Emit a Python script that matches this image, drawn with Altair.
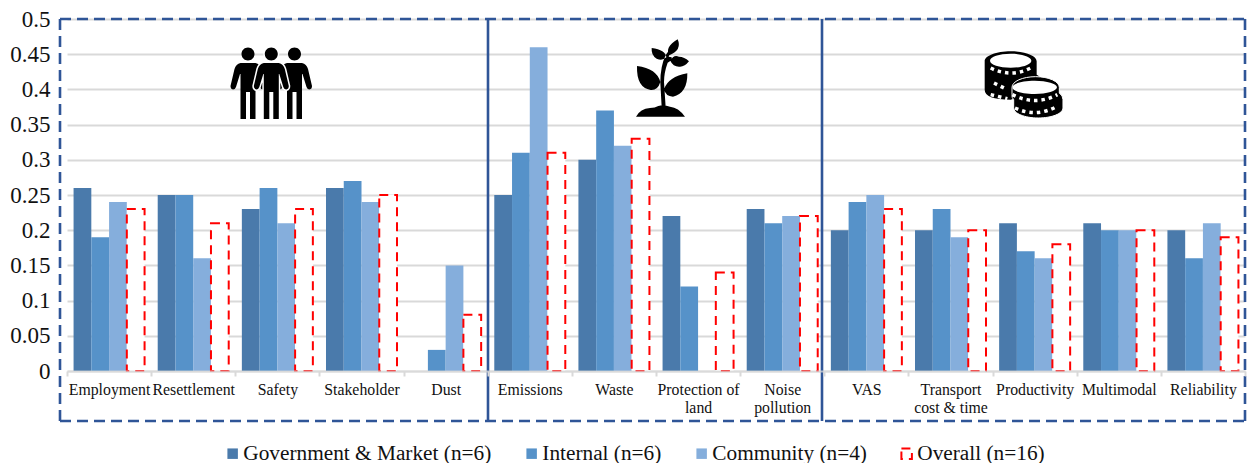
import altair as alt
import pandas as pd

FONT = "Liberation Serif"
TEXT = "#111111"

categories = ["Employment", "Resettlement", "Safety", "Stakeholder", "Dust",
              "Emissions", "Waste", "Protection of land", "Noise pollution",
              "VAS", "Transport cost & time", "Productivity", "Multimodal", "Reliability"]
series_names = ["Government & Market (n=6)", "Internal (n=6)", "Community (n=4)", "Overall (n=16)"]

government = [0.26, 0.25, 0.23, 0.26, 0.0, 0.25, 0.30, 0.22, 0.23, 0.20, 0.20, 0.21, 0.21, 0.20]
internal = [0.19, 0.25, 0.26, 0.27, 0.03, 0.31, 0.37, 0.12, 0.21, 0.24, 0.23, 0.17, 0.20, 0.16]
community = [0.24, 0.16, 0.21, 0.24, 0.15, 0.46, 0.32, 0.0, 0.22, 0.25, 0.19, 0.16, 0.20, 0.21]
overall = [0.23, 0.21, 0.23, 0.25, 0.08, 0.31, 0.33, 0.14, 0.22, 0.23, 0.20, 0.18, 0.20, 0.19]

fills = ["#4a7aab", "#5692c9", "#85aedc", "#ffffff"]
strokes = ["#4a7aab", "#5692c9", "#85aedc", "#ff0000"]
dashes = [[1, 0], [1, 0], [1, 0], [9, 6]]
stroke_widths = [0, 0, 0, 2]

y_ticks = [0, 0.05, 0.1, 0.15, 0.2, 0.25, 0.3, 0.35, 0.4, 0.45, 0.5]

rows = []
for name, values in zip(series_names, [government, internal, community, overall]):
    for category, value in zip(categories, values):
        rows.append({"category": category, "series": name, "value": value})
table = pd.DataFrame(rows)

PLOT_W = 1178
PLOT_H = 352
BLUE = "#2f5597"

wrap_labels = ("datum.label == 'Protection of land' ? ['Protection of', 'land'] : "
               "datum.label == 'Noise pollution' ? ['Noise', 'pollution'] : "
               "datum.label == 'Transport cost & time' ? ['Transport', 'cost & time'] : datum.label")

bars = alt.Chart(table).mark_bar(clip=False).encode(
    x=alt.X("category:N", sort=categories, title=None,
            scale=alt.Scale(paddingInner=0, paddingOuter=0),
            axis=alt.Axis(labelAngle=0, labelFont=FONT, labelFontSize=15.8, labelColor=TEXT,
                          labelOverlap=False, labelLimit=300, labelPadding=6, labelLineHeight=18,
                          labelExpr=wrap_labels, domainColor="#d9d9d9", domainWidth=2,
                          domainOpacity=0.75, tickColor="#d9d9d9", tickWidth=2, tickSize=5,
                          tickBand="extent", grid=False, zindex=1)),
    xOffset=alt.XOffset("series:N", sort=series_names,
                        scale=alt.Scale(domain=series_names, paddingInner=0, paddingOuter=0.37)),
    y=alt.Y("value:Q", title=None,
            scale=alt.Scale(domain=[0, 0.5], nice=False),
            axis=alt.Axis(values=y_ticks, format=".2~f", labelFont=FONT, labelFontSize=23,
                          labelColor=TEXT, labelPadding=17, tickSize=0, domain=False,
                          gridColor="#d9d9d9", gridWidth=2)),
    fill=alt.Fill("series:N", scale=alt.Scale(domain=series_names, range=fills),
                  legend=alt.Legend(title=None, orient="none", legendX=155, legendY=424,
                                    direction="horizontal", columns=4, columnPadding=29,
                                    symbolType="square", symbolSize=110, symbolStrokeWidth=2,
                                    labelFont=FONT, labelFontSize=21.3, labelColor=TEXT,
                                    labelOffset=0, labelLimit=400)),
    stroke=alt.Stroke("series:N", scale=alt.Scale(domain=series_names, range=strokes), legend=None),
    strokeDash=alt.StrokeDash("series:N", scale=alt.Scale(domain=series_names, range=dashes), legend=None),
    strokeWidth=alt.StrokeWidth("series:N",
                                scale=alt.Scale(type="ordinal", domain=series_names, range=stroke_widths),
                                legend=None),
)

one_row = alt.Data(values=[{"k": 1}])


def frame_rule(dash, **channels):
    mark = alt.Chart(one_row).mark_rule(color=BLUE, strokeWidth=2.6, strokeDash=dash, clip=False)
    return mark.encode(**channels)


LEFT, RIGHT, TOP, BOTTOM = -7, 1178, 0, 402
DASH = [11, 6]
SOLID = [1, 0]
frame = [
    frame_rule(DASH, x=alt.value(LEFT), x2=alt.value(RIGHT), y=alt.value(TOP)),
    frame_rule(DASH, x=alt.value(LEFT), x2=alt.value(RIGHT), y=alt.value(BOTTOM)),
    frame_rule(DASH, x=alt.value(LEFT), y=alt.value(TOP), y2=alt.value(BOTTOM)),
    frame_rule(DASH, x=alt.value(RIGHT), y=alt.value(TOP), y2=alt.value(BOTTOM)),
    frame_rule(SOLID, x=alt.value(421), y=alt.value(TOP), y2=alt.value(BOTTOM)),
    frame_rule(SOLID, x=alt.value(755), y=alt.value(TOP), y2=alt.value(BOTTOM)),
]


def icon(path, x, y, size, **style):
    mark = alt.Chart(one_row).mark_point(shape=path, size=size, opacity=1, clip=False, **style)
    return mark.encode(x=alt.value(x), y=alt.value(y))


# Person pictogram: head plus body with arms and two legs, drawn around the head centre.
PERSON = ("M-6.5,0 A6.5,6.5 0 1 1 6.5,0 A6.5,6.5 0 1 1 -6.5,0 Z "
          "M-7.5,9 L7.5,9 Q12,10 13.5,15 L17.5,32 Q17.5,35 15,35.5 Q13,35.5 12,33 L8,20 L7.5,20 L7.5,65 "
          "L2,65 L2,38 L-2,38 L-2,65 L-7.5,65 L-7.5,20 L-8,20 L-12,33 Q-13,35.5 -15,35.5 "
          "Q-17.5,35 -17.5,32 L-13.5,15 Q-12,10 -7.5,9 Z")

# Seedling pictogram in a 3-to-1 grid around its centre.
PLANT = ("M-87,122 Q-74,98 -45,96 Q-30,96 -20,90 Q-4,84 15,92 Q40,94 60,122 Z "
         "M-10,94 L-14,20 Q-14,-30 2,-62 L10,-74 L16,-72 L11,-58 L20,-56 L20,-48 L8,-40 "
         "Q-3,-10 -3,18 L2,94 Z "
         "M-14,18 Q-24,-22 -84,-30 Q-86,35 -43,42 Q-22,44 -14,18 Z "
         "M-3,40 Q10,2 67,-8 Q68,52 24,62 Q2,62 -3,40 Z "
         "M4,-56 Q2,-78 -40,-84 Q-42,-62 -25,-52 Q-8,-44 4,-56 Z "
         "M13,-62 Q-2,-86 38,-110 Q52,-78 13,-62 Z "
         "M16,-46 Q26,-66 42,-58 Q58,-58 72,-44 Q58,-26 42,-28 Q24,-28 16,-46 Z")

# Coin stacks: black silhouettes, white faces and dotted edges, in a 3-to-1 grid.
COIN_BACK = ("M-118,-65 A78,30 0 0 1 38,-65 L38,-25 Q50,-20 50,-8 L50,20 L-40,50 "
             "Q-118,50 -118,20 Z")
COIN_FRONT = ("M-36,13 A71,32 0 0 1 106,13 L106,30 Q117,38 117,50 L117,75 A74,30 0 0 1 -31,75 "
              "L-31,50 Q-37,45 -36,35 Z")
COIN_FACES = ("M-102,-67 A62,21 0 1 1 22,-67 A62,21 0 1 1 -102,-67 Z "
              "M-35,13 A67,20 0 1 1 99,13 A67,20 0 1 1 -35,13 Z")
COIN_EDGES = ["M-100,-45 Q-40,-15 20,-45", "M-90,0 L-60,15", "M-100,35 L-50,47",
              "M-35,35 Q35,70 100,35", "M-27,75 Q35,105 100,70"]

PEOPLE_Y = 35
icons = [
    icon(PERSON, 181, PEOPLE_Y, 4, filled=True, fill="black", strokeWidth=0),
    icon(PERSON, 227.5, PEOPLE_Y, 4, filled=True, fill="black", strokeWidth=0),
    icon(PERSON, 204.3, PEOPLE_Y, 4, filled=True, fill="white", stroke="white", strokeWidth=3),
    icon(PERSON, 204.3, PEOPLE_Y, 4, filled=True, fill="black", strokeWidth=0),
    icon(PLANT, 598, 57, 0.444, filled=True, fill="black", strokeWidth=0),
]
COIN_X, COIN_Y = 957, 64
coin_scale = 0.444
icons.append(icon(COIN_BACK, COIN_X, COIN_Y, coin_scale, filled=True, fill="black", strokeWidth=0))
icons.append(icon(COIN_FRONT, COIN_X, COIN_Y, coin_scale, filled=True, fill="black",
                  stroke="white", strokeWidth=1))
icons.append(icon(COIN_FACES, COIN_X, COIN_Y, coin_scale, filled=True, fill="white", strokeWidth=0))
for edge in COIN_EDGES:
    icons.append(icon(edge, COIN_X, COIN_Y, coin_scale, filled=False, stroke="white",
                      strokeWidth=3.5, strokeDash=[3.5, 4]))

chart = alt.layer(bars, *icons, *frame).properties(
    width=PLOT_W,
    height=PLOT_H,
    autosize=alt.AutoSizeParams(type="none"),
    padding={"left": 67, "top": 19, "right": 3, "bottom": 92},
    background="white",
).configure_view(stroke=None)

chart.save("out.html", embed_options={"renderer": "svg", "actions": False})
